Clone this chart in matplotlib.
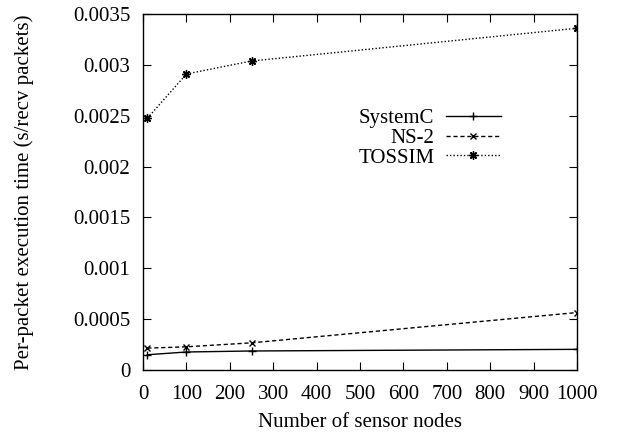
import matplotlib
matplotlib.use("Agg")
import matplotlib.pyplot as plt

# Data
nodes = [10, 100, 250, 1000]
systemc = [0.000150, 0.000177, 0.000187, 0.000203]
ns2 = [0.000215, 0.000228, 0.000267, 0.000565]
tossim = [0.002475, 0.002910, 0.003038, 0.003360]

x_ticks = list(range(0, 1001, 100))
y_ticks = [0, 0.0005, 0.001, 0.0015, 0.002, 0.0025, 0.003, 0.0035]
y_tick_labels = ["0", "0.0005", "0.001", "0.0015", "0.002", "0.0025", "0.003", "0.0035"]

plt.rcParams["font.family"] = ["Liberation Serif", "DejaVu Serif"]

fig = plt.figure(figsize=(6.39, 4.34), dpi=100)
ax = fig.add_axes([143 / 639, 64 / 434, 434 / 639, 356 / 434])

ax.plot(nodes, systemc, color="black", linewidth=1.0, linestyle="-",
        marker="+", markersize=6, markeredgewidth=1.0, label="SystemC")
ax.plot(nodes, ns2, color="black", linewidth=1.0, linestyle=(0, (3, 2)),
        marker="x", markersize=5, markeredgewidth=1.0, label="NS-2")
ax.plot(nodes, tossim, color="black", linewidth=1.0, linestyle=(0, (1, 1.5)),
        marker=(8, 2, 0), markersize=6, markeredgewidth=1.0, label="TOSSIM")

ax.set_xlim(0, 1000)
ax.set_ylim(0, 0.0035)
ax.set_xticks(x_ticks)
ax.set_yticks(y_ticks)
ax.set_yticklabels(y_tick_labels)
ax.tick_params(direction="in", top=True, right=True, length=6, width=0.8,
               labelsize=15)
ax.tick_params(axis="y", pad=9)
ax.tick_params(axis="x", pad=11)
for s in ax.spines.values():
    s.set_linewidth(1.0)

ax.set_xlabel("Number of sensor nodes", fontsize=15, labelpad=6)
ax.set_ylabel("Per-packet execution time (s/recv packets)", fontsize=15, labelpad=28)

ax.legend(loc="center right", bbox_to_anchor=(0.843, 0.651), frameon=False,
          markerfirst=False, fontsize=15, handlelength=2.6, handletextpad=0.58,
          labelspacing=0.0, borderaxespad=0)

fig.savefig("out.png", dpi=100)
